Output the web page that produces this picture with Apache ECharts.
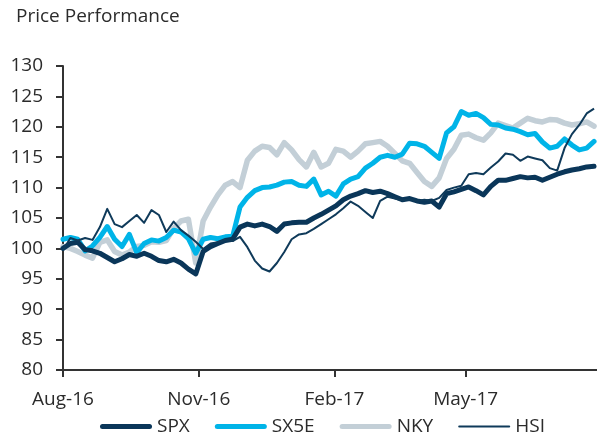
<!DOCTYPE html>
<html>
<head>
<meta charset="utf-8">
<script src="https://cdn.jsdelivr.net/npm/echarts@6/dist/echarts.min.js"></script>
<style>
  html, body { margin: 0; padding: 0; background: #fff; }
  #chart { width: 597px; height: 440px; }
</style>
</head>
<body>
<div id="chart"></div>
<script>
// 数据：2016-08-01 起，每 5 天一个点
var startDate = new Date(2016, 7, 1);
var stepDays = 5;
var yTicks = [80, 85, 90, 95, 100, 105, 110, 115, 120, 125, 130];
var xTickDates = ['2016-08-01', '2016-11-01', '2017-02-01', '2017-05-01'];
var monthNames = ['Jan', 'Feb', 'Mar', 'Apr', 'May', 'Jun', 'Jul', 'Aug', 'Sep', 'Oct', 'Nov', 'Dec'];

var spx = [100, 100.8, 101, 99.8, 99.6, 99.2, 98.5, 97.8, 98.3, 99, 98.7, 99.2, 98.7, 98, 97.8, 98.2, 97.6, 96.6, 95.8, 99.5,
    100.3, 100.8, 101.3, 101.5, 103.5, 104, 103.7, 104, 103.6, 102.8, 104, 104.2, 104.3, 104.3, 105, 105.6, 106.3, 107, 108, 108.6,
    109, 109.5, 109.2, 109.4, 109, 108.5, 108, 108.2, 107.8, 107.6, 107.8, 106.8, 109, 109.3, 109.7, 110.1, 109.5, 108.8, 110.2, 111.2,
    111.2, 111.5, 111.8, 111.6, 111.7, 111.2, 111.7, 112.2, 112.6, 112.9, 113.1, 113.4, 113.5];
var sx5e = [101.5, 101.8, 101.5, 99.6, 100.4, 101.8, 103.6, 101.5, 100.3, 102.3, 99.3, 100.8, 101.4, 101.2, 101.8, 103, 102.7, 101.6, 99.2, 101.5,
    101.8, 101.6, 101.9, 102, 106.8, 108.4, 109.5, 110, 110.1, 110.4, 110.9, 111, 110.4, 110.2, 111.4, 108.8, 109.4, 108.6, 110.6, 111.4,
    111.8, 113.2, 114, 115, 115.3, 115, 115.5, 117.3, 117.2, 116.8, 115.8, 114.8, 119, 120, 122.5, 121.9, 122.2, 121.5, 120.4, 120.3,
    119.8, 119.6, 119.2, 118.7, 118.9, 117.5, 116.5, 116.8, 118, 117, 116.2, 116.5, 117.6];
var nky = [100.3, 100, 99.5, 98.9, 98.4, 101, 101.4, 99.5, 98.9, 99.4, 100.3, 100.5, 101.1, 101, 101.3, 103.3, 104.5, 104.8, 97.6, 104.5,
    106.8, 108.8, 110.4, 111, 110, 114.5, 116, 116.8, 116.6, 115.4, 117.4, 116.2, 114.6, 113.4, 115.8, 113.4, 114, 116.3, 116, 115,
    116, 117.2, 117.4, 117.6, 116.8, 115.6, 114.4, 114, 112.5, 111, 110.2, 111.6, 114.8, 116.3, 118.6, 118.8, 118.2, 117.8, 119, 120.6,
    120.2, 119.8, 120.6, 121.4, 121, 120.8, 121.2, 121.1, 120.6, 120.3, 120.5, 120.8, 120.1];
var hsi = [99.7, 101.7, 101.3, 101.7, 101.4, 103.5, 106.5, 104, 103.5, 104.5, 105.5, 104.2, 106.3, 105.5, 102.7, 104.4, 103, 102.1, 101.1, 99.9,
    100.8, 101, 101.4, 101.2, 101.9, 100.2, 98, 96.7, 96.2, 97.6, 99.4, 101.5, 102.3, 102.5, 103.2, 104, 104.8, 105.6, 106.6, 107.7,
    107, 106, 105, 107.8, 108.5, 108.2, 107.9, 108.1, 107.8, 108, 107.8, 108.3, 109.6, 110, 110.3, 112.2, 112.4, 112.2, 113.3, 114.3,
    115.6, 115.4, 114.4, 115.1, 114.8, 114.5, 113.2, 112.8, 116.5, 118.8, 120.3, 122.2, 123];

var dates = [];
for (var i = 0; i < spx.length; i++) {
    dates.push(startDate.getTime() + i * stepDays * 86400000);
}
function pairs(vals) {
    return vals.map(function (v, i) { return [dates[i], v]; });
}
var tickTimes = xTickDates.map(function (s) {
    var p = s.split('-');
    return new Date(+p[0], +p[1] - 1, +p[2]).getTime();
});

var chart = echarts.init(document.getElementById('chart'));
var textColor = '#2b2b2b';
var font = '"Open Sans", sans-serif';
// 图例图标：粗线（圆头）与细线
var thickIcon = 'path://M2.5,0H49.5A2.5,2.5,0,0,1,49.5,5H2.5A2.5,2.5,0,0,1,2.5,0Z';
var thinIcon = 'path://M1,0H51A1,1,0,0,1,51,2H1A1,1,0,0,1,1,0Z';

var option = {
    animation: false,
    backgroundColor: '#fff',
    title: {
        text: 'Price Performance',
        left: 11,
        top: 2,
        textStyle: { color: textColor, fontSize: 19, fontWeight: 'normal', fontFamily: font }
    },
    grid: {
        left: 63,
        right: 0,
        top: 66,
        bottom: 70,
        outerBoundsMode: 'none'
    },
    legend: {
        left: 100,
        top: 417,
        padding: 0,
        itemWidth: 52,
        itemHeight: 5,
        itemGap: 25,
        symbolKeepAspect: true,
        textStyle: { color: textColor, fontSize: 19, fontFamily: font },
        data: [
            { name: 'SPX', icon: thickIcon },
            { name: 'SX5E', icon: thickIcon },
            { name: 'NKY', icon: thickIcon },
            { name: 'HSI', icon: thinIcon }
        ]
    },
    xAxis: {
        type: 'value',
        min: startDate.getTime(),
        max: startDate.getTime() + 362 * 86400000,
        axisLine: { lineStyle: { color: '#333', width: 2 } },
        axisTick: { show: true, length: 7, lineStyle: { color: '#333', width: 2 }, customValues: tickTimes },
        axisLabel: {
            color: textColor,
            fontSize: 19,
            fontFamily: font,
            margin: 20,
            customValues: tickTimes,
            formatter: function (v) {
                var d = new Date(v);
                return monthNames[d.getMonth()] + '-' + String(d.getFullYear()).slice(2);
            }
        },
        splitLine: { show: false }
    },
    yAxis: {
        type: 'value',
        min: yTicks[0],
        max: yTicks[yTicks.length - 1],
        interval: 5,
        axisLine: { show: true, lineStyle: { color: '#333', width: 2 } },
        axisTick: { show: true, length: 7, lineStyle: { color: '#333', width: 2 } },
        axisLabel: { color: textColor, fontSize: 19, fontFamily: font, margin: 20 },
        splitLine: { show: false }
    },
    series: [{
        name: 'NKY',
        type: 'line',
        data: pairs(nky),
        symbol: 'none',
        itemStyle: { color: '#c3cfd7' },
        lineStyle: { color: '#c3cfd7', width: 5.5, cap: 'round', join: 'round' },
        z: 2
    }, {
        name: 'SX5E',
        type: 'line',
        data: pairs(sx5e),
        symbol: 'none',
        itemStyle: { color: '#00b4e8' },
        lineStyle: { color: '#00b4e8', width: 5, cap: 'round', join: 'round' },
        z: 3
    }, {
        name: 'SPX',
        type: 'line',
        data: pairs(spx),
        symbol: 'none',
        itemStyle: { color: '#0a3659' },
        lineStyle: { color: '#0a3659', width: 5, cap: 'round', join: 'round' },
        z: 4
    }, {
        name: 'HSI',
        type: 'line',
        data: pairs(hsi),
        symbol: 'none',
        itemStyle: { color: '#0f3a5a' },
        lineStyle: { color: '#0f3a5a', width: 2, join: 'round' },
        z: 5
    }]
};
chart.setOption(option);
</script>
</body>
</html>
